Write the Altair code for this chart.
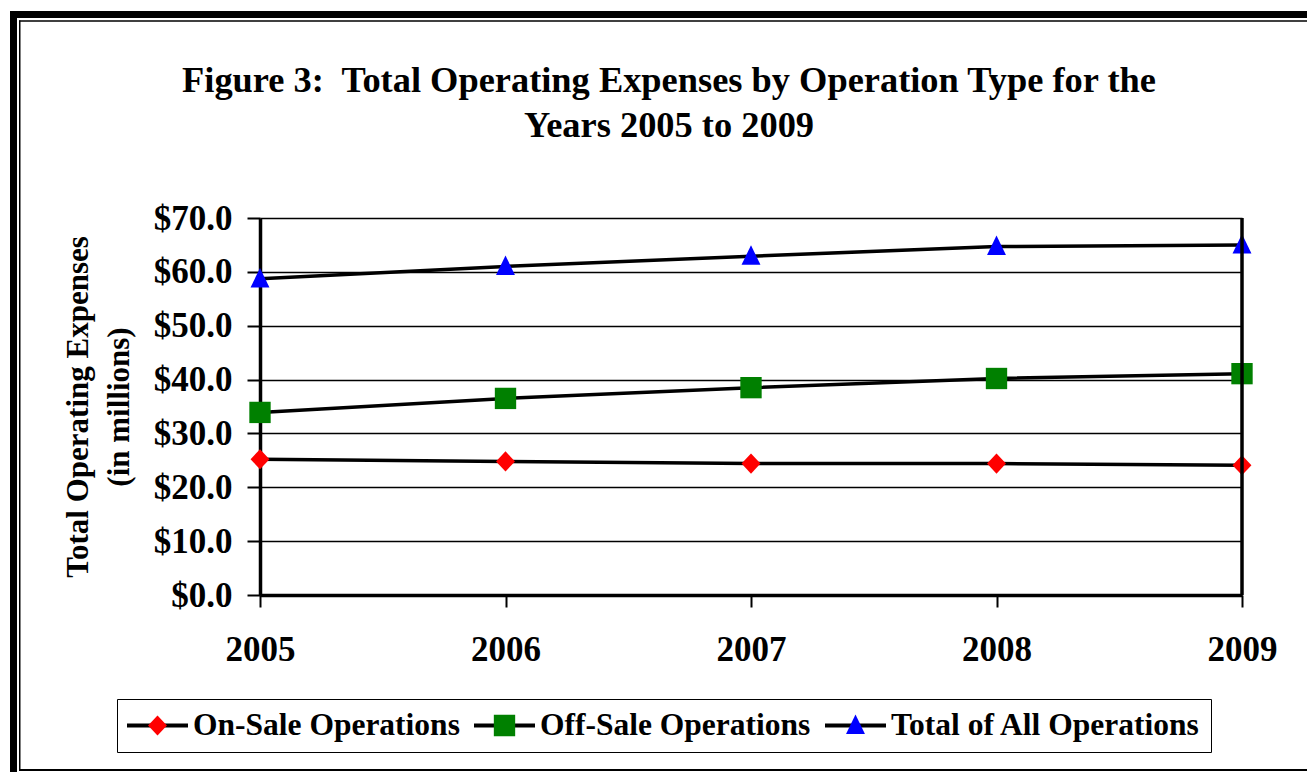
import altair as alt
import pandas as pd

years = [2005, 2006, 2007, 2008, 2009]
on_sale = [25.2, 24.8, 24.4, 24.4, 24.1]
off_sale = [33.9, 36.5, 38.5, 40.2, 41.1]
total_ops = [58.7, 61.0, 62.9, 64.7, 65.0]

series_names = ["On-Sale Operations", "Off-Sale Operations", "Total of All Operations"]
marker_colors = ["#FF0000", "#008000", "#0000FF"]
marker_shapes = [
    "M0,-0.33L0.31,0L0,0.33L-0.31,0Z",
    "M-0.35,-0.35L0.35,-0.35L0.35,0.35L-0.35,0.35Z",
    "M0,-0.36L0.31,0.28L-0.31,0.28Z",
]
y_ticks = [0, 10, 20, 30, 40, 50, 60, 70]

rows = []
for name, vals in zip(series_names, [on_sale, off_sale, total_ops]):
    for yr, v in zip(years, vals):
        rows.append({"year": yr, "value": v, "series": name, "series_m": name})
df = pd.DataFrame(rows)

FONT = "Liberation Serif"
W, H = 982, 377
PL, PT = 252, 210
TOTAL_W, TOTAL_H = 1299, 764

x_enc = alt.X("year:Q",
              scale=alt.Scale(domain=[2005, 2009], nice=False, zero=False),
              axis=alt.Axis(values=years, format="d", title=None, grid=False,
                            labelFont=FONT, labelFontSize=35, labelFontWeight="bold",
                            labelColor="black", tickSize=12, tickWidth=2, tickColor="black",
                            domainColor="black", domainWidth=3.5, labelPadding=25,
                            labelFlush=False))
y_enc = alt.Y("value:Q",
              scale=alt.Scale(domain=[0, 70], nice=False),
              axis=alt.Axis(values=y_ticks, format="$.1f",
                            title=["Total Operating Expenses", "(in millions)"],
                            titleFont=FONT, titleFontSize=31, titleFontWeight="bold",
                            titleColor="black", titleAngle=270, titleX=-173, titleY=188.5,
                            titleAlign="center", titleBaseline="alphabetic", titleLineHeight=41,
                            labelFont=FONT, labelFontSize=35, labelFontWeight="bold",
                            labelColor="black", tickSize=13, tickWidth=2, tickColor="black",
                            domainColor="black", domainWidth=3.5, labelPadding=15,
                            grid=True, gridColor="black", gridWidth=1.5))

common_legend = dict(orient="none", legendX=-143, legendY=481, direction="horizontal",
                     columns=3, title=None, symbolSize=3721, symbolStrokeWidth=4,
                     symbolOffset=-2, clipHeight=33,
                     labelFont=FONT, labelFontSize=31.5, labelFontWeight="bold",
                     labelOffset=3, columnPadding=14, padding=10, labelLimit=1000)

legend_lines = alt.Legend(symbolType="stroke", symbolStrokeColor="black",
                          labelColor="black", strokeColor="black", **common_legend)
legend_marks = alt.Legend(symbolStrokeColor="transparent", labelColor="transparent",
                          strokeColor="transparent", zindex=1, symbolOpacity=1,
                          **common_legend)

lines = alt.Chart(df).mark_line(strokeWidth=3.5).encode(
    x=x_enc, y=y_enc,
    color=alt.Color("series:N", scale=alt.Scale(domain=series_names, range=["black"] * 3),
                    legend=legend_lines),
)

points = alt.Chart(df).mark_point(filled=True, size=3721, opacity=1, strokeWidth=0).encode(
    x="year:Q", y="value:Q",
    fill=alt.Fill("series_m:N", scale=alt.Scale(domain=series_names, range=marker_colors),
                  legend=legend_marks),
    shape=alt.Shape("series_m:N", scale=alt.Scale(domain=series_names, range=marker_shapes),
                    legend=legend_marks),
)

right_edge = alt.Chart(alt.Data(values=[{}])).mark_rule(color="black", strokeWidth=3.5).encode(
    x=alt.datum(2009)
)

# decorative page frame (outside the plot area)
RIGHT = TOTAL_W - PL
BOTTOM = TOTAL_H - PT
blank = alt.Data(values=[{}])
frame_thick_left = alt.Chart(blank).mark_rule(color="black", strokeWidth=7, clip=False).encode(
    x=alt.value(-246.5), y=alt.value(-207), y2=alt.value(BOTTOM))
frame_thick_top = alt.Chart(blank).mark_rule(color="black", strokeWidth=7, clip=False).encode(
    x=alt.value(-250), x2=alt.value(RIGHT), y=alt.value(-203.5))
frame_thin_left = alt.Chart(blank).mark_rule(color="black", strokeWidth=1.5, clip=False).encode(
    x=alt.value(-240.25), y=alt.value(-197.5), y2=alt.value(BOTTOM - 2))
frame_thin_top = alt.Chart(blank).mark_rule(color="black", strokeWidth=1.5, clip=False).encode(
    x=alt.value(-241), x2=alt.value(RIGHT), y=alt.value(-197))
frame_bottom = alt.Chart(blank).mark_rule(color="black", strokeWidth=2, clip=False).encode(
    x=alt.value(-241), x2=alt.value(RIGHT), y=alt.value(BOTTOM - 2))

chart = alt.layer(
    frame_thick_left, frame_thick_top, frame_thin_left, frame_thin_top, frame_bottom,
    lines, points, right_edge,
).resolve_scale(color="independent").properties(
    width=W, height=H,
    autosize=alt.AutoSizeParams(type="none"),
    padding={"left": PL, "top": PT, "right": TOTAL_W - PL - W, "bottom": TOTAL_H - PT - H},
    title=alt.TitleParams(
        text=["Figure 3:\u00a0 Total Operating Expenses by Operation Type for the",
              "Years 2005 to 2009"],
        font=FONT, fontSize=36.4, fontWeight="bold", color="black", lineHeight=45,
        anchor="middle", dx=-82, offset=0, dy=137,
    ),
).configure_view(stroke=None).configure_legend(strokeWidth=2).configure(background="white")

chart.save("out.html", embed_options={"renderer": "svg", "actions": False})
